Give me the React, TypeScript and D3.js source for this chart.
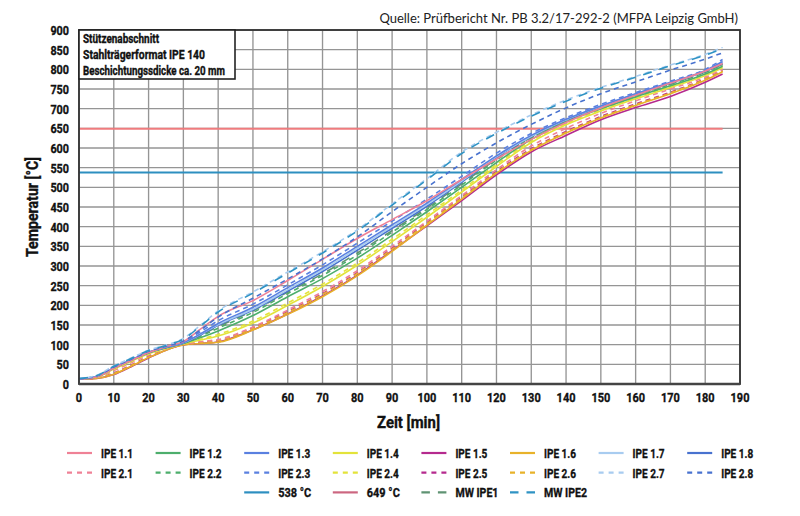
import React from "react";
import * as d3 from "d3";

const times = [0, 5, 10, 15, 20, 25, 30, 35, 40, 50, 60, 70, 80, 90, 100, 110, 120, 130, 140, 150, 160, 170, 180, 185];

const ipe11 = [12, 18, 40, 60, 80, 95, 108, 140, 172, 212, 263, 317, 370, 418, 466, 520, 572, 622, 665, 702, 734, 765, 796, 815];
const ipe12 = [12, 18, 40, 60, 79, 92, 103, 118, 135, 174, 222, 268, 320, 378, 438, 500, 563, 622, 667, 700, 730, 758, 788, 808];
const ipe13 = [13, 19, 41, 61, 81, 94, 105, 128, 154, 195, 245, 295, 350, 405, 460, 520, 580, 632, 673, 707, 738, 767, 797, 820];
const ipe14 = [12, 17, 38, 58, 77, 91, 102, 112, 122, 155, 200, 248, 302, 362, 424, 488, 553, 614, 659, 694, 725, 754, 784, 804];
const ipe15 = [12, 14, 24, 44, 66, 86, 100, 103, 107, 138, 178, 224, 277, 339, 402, 466, 532, 590, 632, 672, 703, 731, 767, 788];
const ipe16 = [12, 14, 25, 45, 67, 86, 99, 103, 106, 137, 177, 222, 275, 337, 404, 470, 536, 594, 638, 676, 708, 738, 772, 794];
const ipe17 = [13, 19, 41, 61, 81, 94, 105, 127, 151, 190, 240, 290, 345, 400, 456, 516, 578, 630, 672, 706, 737, 766, 796, 818];
const ipe18 = [13, 19, 41, 61, 80, 93, 104, 125, 149, 188, 236, 286, 340, 396, 452, 513, 576, 629, 671, 705, 736, 765, 795, 815];

const ipe21 = [12, 16, 34, 54, 74, 89, 101, 108, 113, 145, 188, 235, 288, 350, 414, 479, 545, 605, 650, 688, 720, 750, 780, 800];
const ipe22 = [12, 19, 41, 61, 80, 93, 104, 122, 142, 182, 230, 276, 328, 386, 444, 506, 569, 626, 669, 703, 733, 762, 792, 812];
const ipe23 = [13, 20, 42, 62, 82, 95, 107, 133, 161, 203, 252, 303, 358, 414, 470, 528, 587, 637, 677, 711, 741, 770, 800, 825];
const ipe24 = [12, 17, 37, 57, 76, 90, 102, 114, 126, 160, 206, 254, 308, 368, 430, 493, 558, 618, 662, 697, 728, 757, 787, 807];
const ipe25 = [12, 15, 28, 48, 70, 88, 100, 106, 111, 143, 184, 230, 283, 345, 410, 475, 540, 598, 642, 680, 712, 742, 776, 797];
const ipe26 = [12, 15, 27, 47, 69, 87, 100, 105, 110, 141, 182, 228, 281, 343, 408, 473, 538, 596, 640, 678, 710, 740, 775, 796];
const ipe27 = [14, 22, 46, 66, 86, 99, 116, 150, 186, 234, 285, 336, 392, 458, 522, 590, 640, 684, 722, 754, 782, 811, 838, 856];
const ipe28 = [13, 20, 43, 63, 83, 96, 109, 138, 170, 218, 267, 318, 374, 438, 500, 560, 613, 660, 702, 738, 768, 798, 826, 842];

const mwIpe1 = [13, 19, 41, 61, 80, 93, 104, 124, 146, 186, 234, 280, 333, 390, 448, 509, 572, 627, 670, 704, 734, 763, 793, 813];
const mwIpe2 = [14, 21, 45, 65, 85, 98, 114, 148, 183, 231, 282, 333, 389, 455, 519, 586, 637, 681, 719, 752, 780, 809, 836, 853];

const limitTemps = [538, 649];
const limitEnd = 185;

const xTicks = d3.range(0, 191, 10);
const yTicks = d3.range(0, 901, 50);

const infoLines = ["Stützenabschnitt", "Stahlträgerformat IPE 140", "Beschichtungssdicke ca. 20 mm"];
const infoWidths = [76, 122, 142];
const sourceText = "Quelle: Prüfbericht Nr. PB 3.2/17-292-2 (MFPA Leipzig GmbH)";

type S = { name: string; values: number[]; color: string; dash: string; row: number; col: number };

const series: S[] = [
  { name: "IPE 1.1", values: ipe11, color: "#ef8196", dash: "", row: 0, col: 0 },
  { name: "IPE 1.2", values: ipe12, color: "#4dae6c", dash: "", row: 0, col: 1 },
  { name: "IPE 1.3", values: ipe13, color: "#5a80e0", dash: "", row: 0, col: 2 },
  { name: "IPE 1.4", values: ipe14, color: "#e3e33a", dash: "", row: 0, col: 3 },
  { name: "IPE 1.5", values: ipe15, color: "#b52a8e", dash: "", row: 0, col: 4 },
  { name: "IPE 1.6", values: ipe16, color: "#e8b22a", dash: "", row: 0, col: 5 },
  { name: "IPE 1.7", values: ipe17, color: "#a8ccf0", dash: "", row: 0, col: 6 },
  { name: "IPE 1.8", values: ipe18, color: "#4872cf", dash: "", row: 0, col: 7 },
  { name: "IPE 2.1", values: ipe21, color: "#ef8196", dash: "5,4", row: 1, col: 0 },
  { name: "IPE 2.2", values: ipe22, color: "#4dae6c", dash: "5,4", row: 1, col: 1 },
  { name: "IPE 2.3", values: ipe23, color: "#5a80e0", dash: "5,4", row: 1, col: 2 },
  { name: "IPE 2.4", values: ipe24, color: "#e3e33a", dash: "5,4", row: 1, col: 3 },
  { name: "IPE 2.5", values: ipe25, color: "#b52a8e", dash: "5,4", row: 1, col: 4 },
  { name: "IPE 2.6", values: ipe26, color: "#e8b22a", dash: "5,4", row: 1, col: 5 },
  { name: "IPE 2.7", values: ipe27, color: "#a8ccf0", dash: "5,4", row: 1, col: 6 },
  { name: "IPE 2.8", values: ipe28, color: "#4872cf", dash: "5,4", row: 1, col: 7 },
  { name: "MW IPE1", values: mwIpe1, color: "#5f9373", dash: "9,8", row: 2, col: 4 },
  { name: "MW IPE2", values: mwIpe2, color: "#2f93c4", dash: "9,8", row: 2, col: 5 },
];

const limits = [
  { name: "538 °C", temp: limitTemps[0], color: "#2d8fc0", legendColor: "#2d8fc0", row: 2, col: 2 },
  { name: "649 °C", temp: limitTemps[1], color: "#ef7b7e", legendColor: "#cc6680", row: 2, col: 3 },
];

const FONT = "Roboto, 'Noto Sans', sans-serif";
const INK = "#111";

const labelWidth = (name: string) => (name.startsWith("MW") ? 43 : name.includes("°") ? 33 : 32);

export default function App() {
  const W = 800, H = 516;
  const x = d3.scaleLinear().domain([0, 190]).range([79, 740]);
  const y = d3.scaleLinear().domain([0, 900]).range([384, 30]);
  const line = d3
    .line<number>()
    .x((_, i) => x(times[i]))
    .y((d) => y(d))
    .curve(d3.curveMonotoneX);

  const legX = (c: number) => 67 + c * 88.6;
  const legY = (r: number) => 453 + r * 19.7;

  const drawOrder = [
    "IPE 1.5", "IPE 1.6", "IPE 2.5", "IPE 2.6", "IPE 2.1", "IPE 1.4", "IPE 2.4", "IPE 1.2", "IPE 2.2",
    "MW IPE1", "IPE 1.8", "IPE 1.7", "IPE 1.3", "IPE 2.3", "IPE 1.1", "IPE 2.8", "IPE 2.7", "MW IPE2",
  ];
  const ordered = drawOrder.map((n) => series.find((s) => s.name === n)!);

  const bold = { fontFamily: FONT, fontWeight: "bold" as const, fill: INK, stroke: INK, strokeWidth: 0.35 };

  return (
    <svg width={W} height={H} style={{ position: "fixed", left: 0, top: 0, background: "#fff" }}>
      <rect width={W} height={H} fill="#fff" />
      {/* grid */}
      <g stroke="#959595" strokeWidth={1.35}>
        {xTicks.map((t) => (
          <line key={"gx" + t} x1={x(t)} x2={x(t)} y1={y(900)} y2={y(0)} />
        ))}
        {yTicks.map((t) => (
          <line key={"gy" + t} x1={x(0)} x2={x(190)} y1={y(t)} y2={y(t)} />
        ))}
      </g>
      {/* limit lines */}
      {limits.map((l) => (
        <line key={l.name} x1={x(0)} x2={x(limitEnd)} y1={y(l.temp)} y2={y(l.temp)} stroke={l.color} strokeWidth={2} />
      ))}
      {/* curves */}
      <g fill="none">
        {ordered.map((s) => (
          <path key={s.name} d={line(s.values) || ""} stroke={s.color} strokeWidth={1.6} strokeDasharray={s.dash || undefined} />
        ))}
      </g>
      {/* frame */}
      <rect x={x(0)} y={y(900)} width={x(190) - x(0)} height={y(0) - y(900)} fill="none" stroke="#333" strokeWidth={1.8} />
      <line x1={x(0)} x2={x(190)} y1={y(0)} y2={y(0)} stroke="#444" strokeWidth={2.5} />
      {/* info box */}
      <rect x={x(0)} y={y(900)} width={156} height={49} fill="#fff" stroke="#222" strokeWidth={1.6} />
      {infoLines.map((t, i) => (
        <text key={t} x={83} y={43 + i * 16} {...bold} fontSize={12.5}
          textLength={infoWidths[i]} lengthAdjust="spacingAndGlyphs">
          {t}
        </text>
      ))}
      {/* y ticks */}
      {yTicks.map((t) => {
        const s = String(t);
        return (
          <text key={"yl" + t} x={69 - s.length * 6.2} y={y(t) + 5} {...bold} fontSize={13.5}
            textLength={s.length * 6.2} lengthAdjust="spacingAndGlyphs">
            {s}
          </text>
        );
      })}
      {/* x ticks */}
      {xTicks.map((t) => {
        const s = String(t);
        const w = s.length * 6.3;
        return (
          <text key={"xl" + t} x={x(t) - w / 2} y={402} {...bold} fontSize={13.5}
            textLength={w} lengthAdjust="spacingAndGlyphs">
            {s}
          </text>
        );
      })}
      <text x={377} y={428} {...bold} fontSize={16} textLength={63} lengthAdjust="spacingAndGlyphs">
        Zeit [min]
      </text>
      <text transform={`translate(38,257) rotate(-90)`} {...bold} fontSize={16} textLength={100} lengthAdjust="spacingAndGlyphs">
        Temperatur [°C]
      </text>
      <text x={738} y={23} textAnchor="end" fontFamily="Lato, 'Open Sans', sans-serif" fontSize={13} fill="#222">
        {sourceText}
      </text>
      {/* legend */}
      {series.map((s) => (
        <g key={"lg" + s.name}>
          <line x1={legX(s.col)} x2={legX(s.col) + 25} y1={legY(s.row)} y2={legY(s.row)} stroke={s.color} strokeWidth={2.2}
            strokeDasharray={s.dash ? (s.dash === "9,8" ? "8.5,8" : "5,5") : undefined} />
          <text x={legX(s.col) + 34} y={legY(s.row) + 5} {...bold} fontSize={13.5}
            textLength={labelWidth(s.name)} lengthAdjust="spacingAndGlyphs">
            {s.name}
          </text>
        </g>
      ))}
      {limits.map((l) => (
        <g key={"ll" + l.name}>
          <line x1={legX(l.col)} x2={legX(l.col) + 25} y1={legY(l.row)} y2={legY(l.row)} stroke={l.legendColor} strokeWidth={2.2} />
          <text x={legX(l.col) + 34} y={legY(l.row) + 5} {...bold} fontSize={13.5}
            textLength={labelWidth(l.name)} lengthAdjust="spacingAndGlyphs">
            {l.name}
          </text>
        </g>
      ))}
    </svg>
  );
}
